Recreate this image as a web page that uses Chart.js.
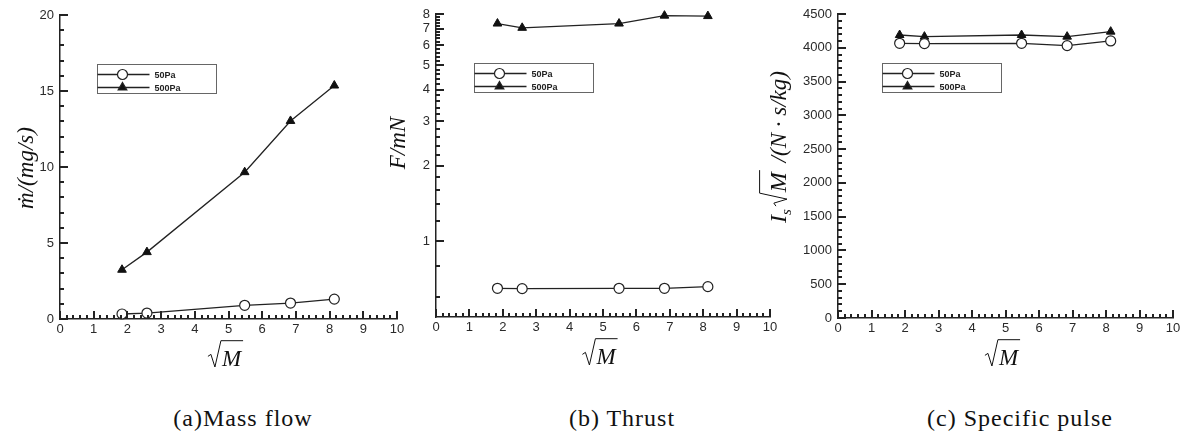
<!DOCTYPE html>
<html>
<head>
<meta charset="utf-8">
<script src="https://cdn.jsdelivr.net/npm/chart.js@4.4.0/dist/chart.umd.min.js"></script>
<style>
  body { margin: 0; background: #fff; width: 1185px; height: 434px; position: relative; overflow: hidden; }
  canvas { position: absolute; left: 0; top: 0; }
  .cap { position: absolute; top: 406px; font: 24px "Liberation Serif", "Times New Roman", serif; line-height: 24px;
         letter-spacing: 1px; white-space: nowrap; transform: translateX(-50%); color: #111; }
</style>
</head>
<body>
<canvas id="massChart" width="1185" height="400"></canvas>
<canvas id="thrustChart" width="1185" height="400"></canvas>
<canvas id="ispChart" width="1185" height="400"></canvas>
<div class="cap" style="left:243px">(a)Mass flow</div>
<div class="cap" style="left:622px">(b) Thrust</div>
<div class="cap" style="left:1020px">(c) Specific pulse</div>

<script>
// data
const sqrtM = [1.84, 2.58, 5.48, 6.84, 8.14];
const seriesLabels = ["50Pa", "500Pa"];

const massFlow50Pa = [0.33, 0.39, 0.90, 1.05, 1.31];
const massFlow500Pa = [3.24, 4.40, 9.66, 13.03, 15.36];

const thrust50Pa = [0.65, 0.648, 0.65, 0.65, 0.66];
const thrust500Pa = [7.33, 7.05, 7.33, 7.88, 7.85];

const isp50Pa = [4066, 4062, 4066, 4032, 4101];
const isp500Pa = [4189, 4165, 4189, 4165, 4239];

const xTicks = [0, 1, 2, 3, 4, 5, 6, 7, 8, 9, 10];
const massTicks = [0, 5, 10, 15, 20];
const thrustTicks = [1, 2, 3, 4, 5, 6, 7, 8];
const ispTicks = [0, 500, 1000, 1500, 2000, 2500, 3000, 3500, 4000, 4500];

const SERIF = '"Liberation Serif", "DejaVu Serif", serif';
const tickFont = { family: '"Liberation Sans", Arial, sans-serif', size: 13 };
const CANVAS_W = 1185, CANVAS_H = 400, Y_W = 55, X_H = 40;

// minor tick positions (axis decoration only)
const massMinor = [];
for (let v = 0; v <= 20; v++) massMinor.push(v);
const ispMinor = [];
for (let v = 0; v <= 4500; v += 100) ispMinor.push(v);
const thrustMinor = [];
for (let k = 3; k <= 40; k++) thrustMinor.push(k / 5);
const xMinor = [];
for (let k = 0; k <= 50; k++) xMinor.push(k / 5);

// draw a row of italic pieces; {rad:"M"} draws a square root over the text
function mathRow(ctx, parts, x, y, draw) {
  let cx = x;
  parts.forEach(p => {
    ctx.font = "italic " + p.size + "px " + SERIF;
    if (p.rad) {
      const w = ctx.measureText(p.rad).width;
      const h = p.size * 1.1;
      if (draw) {
        ctx.beginPath();
        ctx.moveTo(cx, y - h * 0.38);
        ctx.lineTo(cx + 3, y - h * 0.46);
        ctx.lineTo(cx + 7, y + 1);
        ctx.lineTo(cx + 13, y - h);
        ctx.lineTo(cx + 16 + w, y - h);
        ctx.stroke();
        ctx.fillText(p.rad, cx + 14, y);
      }
      cx += 18 + w;
    } else {
      if (draw) ctx.fillText(p.text, cx, y + (p.dy || 0));
      cx += ctx.measureText(p.text).width;
    }
  });
  return cx - x;
}

function mathCentered(ctx, parts, cx, cy, rotate) {
  ctx.save();
  ctx.translate(cx, cy);
  if (rotate) ctx.rotate(-Math.PI / 2);
  const w = mathRow(ctx, parts, 0, 0, false);
  mathRow(ctx, parts, -w / 2, rotate ? 7 : 0, true);
  ctx.restore();
}

// per chart extras, kept outside chart options
const extras = {};

const figPlugin = {
  id: "fig",
  afterDraw(chart) {
    const opts = extras[chart.canvas.id];
    const ctx = chart.ctx;
    const xs = chart.scales.x, ys = chart.scales.y;
    const a = chart.chartArea;
    const bottom = Math.round(a.bottom), left = Math.round(a.left);
    ctx.save();

    // inward ticks, 2px wide so they read like the scanned original
    ctx.fillStyle = "#222";
    xMinor.forEach((v, i) => {
      const px = Math.round(xs.getPixelForValue(v));
      const len = i % 5 === 0 ? 8 : 4;
      ctx.fillRect(px - 1, bottom - len, 2, len);
    });
    opts.yMinor.forEach(v => {
      const py = Math.round(ys.getPixelForValue(v));
      ctx.fillRect(left, py - 1, 4, 2);
    });
    opts.yMajor.forEach(v => {
      const py = Math.round(ys.getPixelForValue(v));
      ctx.fillRect(left, py - 1, 8, 2);
    });

    // legend
    const bx = left + opts.legendDx + 0.5, by = Math.round(a.top) + 49.5;
    ctx.strokeStyle = "#666";
    ctx.lineWidth = 1;
    ctx.strokeRect(bx, by, 119, 29);
    chart.data.datasets.forEach((ds, i) => {
      const ly = by + 10 + i * 13;
      ctx.strokeStyle = ds.borderColor;
      ctx.lineWidth = 1.3;
      ctx.beginPath(); ctx.moveTo(bx, ly); ctx.lineTo(bx + 52, ly); ctx.stroke();
      ctx.fillStyle = ds.pointBackgroundColor;
      ctx.lineWidth = 1.2;
      Chart.helpers.drawPoint(ctx, { pointStyle: ds.pointStyle, radius: 5, rotation: 0, borderWidth: 1.2 }, bx + 25, ly);
      ctx.fillStyle = "#222";
      ctx.font = 'bold 9px "Liberation Sans", Arial, sans-serif';
      ctx.textBaseline = "middle";
      ctx.fillText(ds.label, bx + 57, ly + 1);
      ctx.textBaseline = "alphabetic";
    });

    // axis titles
    ctx.fillStyle = "#111";
    ctx.strokeStyle = "#111";
    ctx.lineWidth = 1;
    mathCentered(ctx, [{ rad: "M", size: 23 }], (a.left + a.right) / 2 - 2, a.bottom + 47, false);
    mathCentered(ctx, opts.yTitle, opts.yTitleX, opts.yTitleY, true);
    ctx.restore();
  }
};

function points(ys) {
  return sqrtM.map((x, i) => ({ x: x, y: ys[i] }));
}

function makeChart(id, frame, yScale, s50, s500, extra) {
  extras[id] = extra;
  return new Chart(document.getElementById(id), {
    type: "scatter",
    data: {
      datasets: [
        { label: seriesLabels[0], data: points(s50), showLine: true, borderColor: "#222", borderWidth: 1.3,
          pointStyle: "circle", pointRadius: 5, pointBackgroundColor: "#fff", pointBorderColor: "#222",
          pointBorderWidth: 1.2, clip: false },
        { label: seriesLabels[1], data: points(s500), showLine: true, borderColor: "#222", borderWidth: 1.3,
          pointStyle: "triangle", pointRadius: 5, pointBackgroundColor: "#111", pointBorderColor: "#111",
          pointBorderWidth: 1, clip: false }
      ]
    },
    options: {
      responsive: false,
      animation: false,
      devicePixelRatio: 1,
      layout: {
        padding: { left: frame.left - Y_W, right: CANVAS_W - frame.right, top: frame.top, bottom: CANVAS_H - frame.bottom - X_H }
      },
      scales: {
        x: {
          type: "linear", min: 0, max: 10,
          afterBuildTicks: s => { s.ticks = xTicks.map(v => ({ value: v })); },
          afterFit: s => { s.height = X_H; },
          ticks: { font: tickFont, color: "#2a2a2a", padding: 3, maxRotation: 0 },
          grid: { display: false, drawTicks: false },
          border: { color: "#222", width: 1.5 }
        },
        y: Object.assign({
          afterFit: s => { s.width = Y_W; },
          ticks: { font: tickFont, color: "#2a2a2a", padding: 6, callback: v => String(v) },
          grid: { display: false, drawTicks: false },
          border: { color: "#222", width: 1.5 }
        }, yScale)
      },
      plugins: { legend: { display: false }, tooltip: { enabled: false } }
    },
    plugins: [figPlugin]
  });
}

makeChart("massChart", { left: 60, right: 397, top: 15, bottom: 319 },
  { type: "linear", min: 0, max: 20, afterBuildTicks: s => { s.ticks = massTicks.map(v => ({ value: v })); } },
  massFlow50Pa, massFlow500Pa,
  { yMajor: massTicks, yMinor: massMinor, legendDx: 37,
    yTitle: [{ text: "ṁ/(mg/s)", size: 23 }], yTitleX: 26, yTitleY: 168 });

makeChart("thrustChart", { left: 436, right: 770, top: 14, bottom: 317 },
  { type: "logarithmic", min: 0.5, max: 8, afterBuildTicks: s => { s.ticks = thrustTicks.map(v => ({ value: v })); } },
  thrust50Pa, thrust500Pa,
  { yMajor: thrustTicks, yMinor: thrustMinor, legendDx: 38,
    yTitle: [{ text: "F/mN", size: 23 }], yTitleX: 398, yTitleY: 143 });

makeChart("ispChart", { left: 838, right: 1173, top: 14, bottom: 318 },
  { type: "linear", min: 0, max: 4500, afterBuildTicks: s => { s.ticks = ispTicks.map(v => ({ value: v })); } },
  isp50Pa, isp500Pa,
  { yMajor: ispTicks, yMinor: ispMinor, legendDx: 44,
    yTitle: [{ text: "I", size: 24 }, { text: "s", size: 15, dy: 5 }, { text: " ", size: 12 }, { rad: "M", size: 24 },
             { text: " /(N · s/kg)", size: 23 }],
    yTitleX: 779, yTitleY: 147 });
</script>
</body>
</html>
